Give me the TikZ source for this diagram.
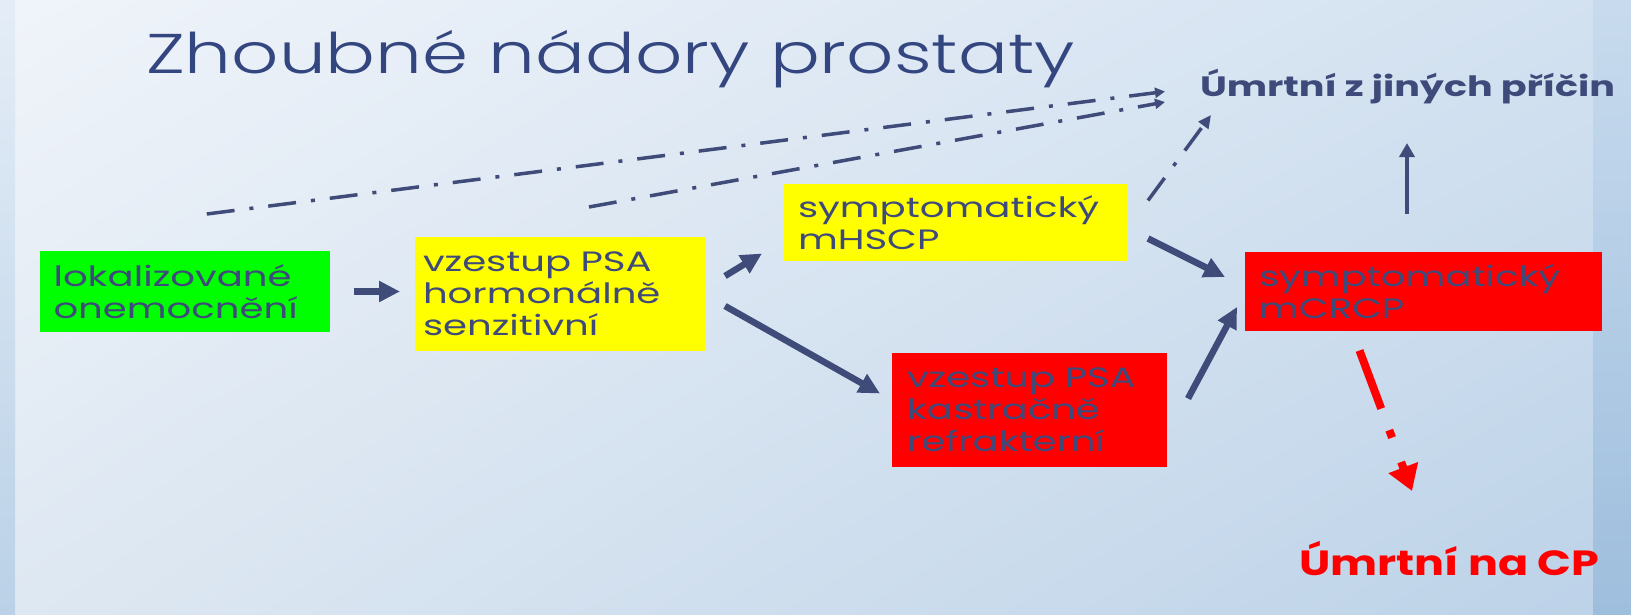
\documentclass[tikz,border=0pt]{standalone}
\usepackage{fontspec}
\setmainfont{Poppins}
\newfontfamily\titlefont{Poppins Light}[FakeStretch=1.32]
\newfontfamily\boxfont{Poppins}[FakeStretch=1.38]
\newfontfamily\lblfont{Poppins}[FakeStretch=1.36]
\newfontfamily\cpfont{Poppins}[FakeStretch=1.27]
\usetikzlibrary{arrows.meta,calc,shadings}
\definecolor{txt}{RGB}{62,74,122}
\definecolor{ttl}{RGB}{52,70,128}
\definecolor{arrc}{RGB}{63,75,120}
\definecolor{bgA}{RGB}{240,244,250}
\definecolor{bgB}{RGB}{210,225,240}
\definecolor{bgC}{RGB}{222,232,242}
\definecolor{bgD}{RGB}{188,210,232}
\definecolor{lsA}{RGB}{228,237,247}
\definecolor{lsB}{RGB}{186,209,231}
\definecolor{rsA}{RGB}{200,219,238}
\definecolor{rsB}{RGB}{158,190,221}
\definecolor{boxG}{RGB}{0,255,0}
\definecolor{boxY}{RGB}{255,255,0}
\definecolor{boxR}{RGB}{255,0,0}
\begin{document}
\begin{tikzpicture}[x=1pt,y=-1pt,
  box/.style={rectangle, anchor=north west, outer sep=0pt, inner ysep=0pt,
    text=txt, align=left, font=\boxfont\fontsize{28}{32}\selectfont},
  arr/.style={draw=arrc, line width=6.5pt, -{Triangle[length=21pt,width=20pt]}},
  vup/.style={draw=arrc, line width=4.8pt, -{Triangle[length=14pt,width=15pt]}},
  dd/.style={draw=arrc, line width=3.5pt, dash pattern=on 28pt off 15pt on 4pt off 15pt,
    -{Triangle[length=13pt,width=12pt]}},
  ddthin/.style={draw=arrc, line width=3.5pt, dash pattern=on 28pt off 15pt on 4pt off 15pt,
    -{Triangle[length=10pt,width=10pt]}},
  rdd/.style={draw=boxR, line width=8pt, dash pattern=on 62pt off 23pt on 8pt off 26pt,
    -{Triangle[length=25pt,width=30pt]}},
  endlabel/.style={anchor=base west, inner sep=0pt, outer sep=0pt}
]
\useasboundingbox (0,0) rectangle (1631,614);
% background
\shade[upper left=bgA, upper right=bgB, lower left=bgC, lower right=bgD] (0,0) rectangle (1631,614);
\shade[top color=lsA, bottom color=lsB] (0,0) rectangle (15,614);
\shade[top color=rsA, bottom color=rsB] (1593,0) rectangle (1631,614);

% title
\node[endlabel, text=ttl, font=\titlefont\fontsize{56}{60}\selectfont] (title) at (146,73) {Zhoubné nádory prostaty};

% boxes
\node[box, fill=boxG, inner xsep=14pt, text width=262.5pt, minimum height=81pt] (g) at (39.5,251) {lokalizované\\onemocnění};
\node[box, fill=boxY, inner xsep=8pt, text width=275pt, minimum height=114pt] (y1) at (415,237) {vzestup PSA\\hormonálně\\senzitivní};
\node[box, fill=boxY, inner xsep=14pt, text width=316pt, minimum height=77pt] (y2) at (784,184) {symptomatický\\mHSCP};
\node[box, fill=boxR, inner xsep=15pt, text width=245pt, minimum height=114pt] (r1) at (892,353) {vzestup PSA\\kastračně\\refrakterní};
\node[box, fill=boxR, inner xsep=14pt, text width=329pt, minimum height=79pt] (r2) at (1245,252) {symptomatický\\mCRCP};

% end labels
\node[endlabel, text=txt, font=\lblfont\bfseries\fontsize{28}{30}\selectfont] (t1) at (1200,96) {Úmrtní z jiných příčin};
\node[endlabel, text=boxR, font=\cpfont\bfseries\fontsize{35}{38}\selectfont] (t2) at (1299,575) {Úmrtní na CP};

% solid arrows
\draw[arr] ([shift={(24,0)}]g.east) -- ([shift={(-15,-2.5)}]y1.west);
\draw[arr] ([shift={(19,-18)}]y1.east) -- ([shift={(-22,31)}]y2.west);
\draw[arr] ([shift={(19,12)}]y1.east) -- ([shift={(-12,-16.5)}]r1.west);
\draw[arr] ([shift={(20,16)}]y2.east) -- ([shift={(-20,-14.5)}]r2.west);
\draw[arr] ([shift={(21,-11.5)}]r1.east) -- ([shift={(-8,15.5)}]r2.west);
\draw[vup] ([shift={(-16.5,-38)}]r2.north) -- ([shift={(207,47)}]t1.base west);

% dash-dot arrows
\draw[ddthin] ([shift={(22,-37)}]g.north) -- ([shift={(-35,-4.5)}]t1.base west);
\draw[ddthin] ([shift={(28.5,-30)}]y1.north) -- ([shift={(-35,6)}]t1.base west);
\draw[dd] ([shift={(20,-22)}]y2.east) -- ([shift={(11,19)}]t1.base west);
\draw[rdd] ([shift={(-64,19.5)}]r2.south) -- ([shift={(113,-84)}]t2.base west);
\end{tikzpicture}
\end{document}
